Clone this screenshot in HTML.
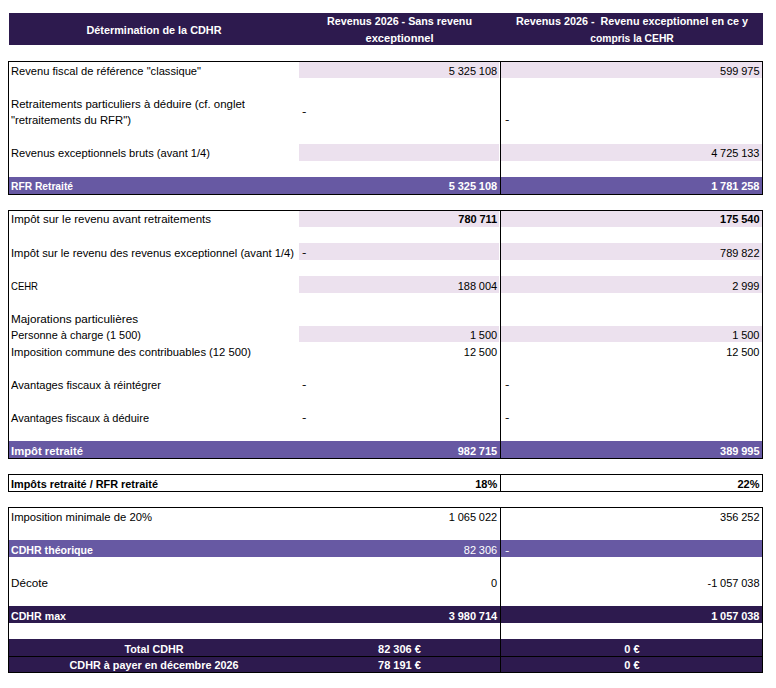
<!DOCTYPE html>
<html lang="fr"><head><meta charset="utf-8"><title>Détermination de la CDHR</title>
<style>
html,body{margin:0;padding:0;background:#fff;}
body{width:776px;height:688px;position:relative;overflow:hidden;font-family:"Liberation Sans",sans-serif;color:#000;}
.f{position:absolute;}
.t{position:absolute;white-space:pre;font-size:11px;line-height:16px;height:16px;transform-origin:0 50%;}
.b{font-weight:bold;}
.n{text-align:right;word-spacing:-0.3px;transform-origin:100% 50%;}
.w{color:#fff;}
.c{text-align:center;transform-origin:50% 50%;}
.k{background:#000;position:absolute;}
</style></head><body>
<div class="f" style="left:9px;top:13px;width:754px;height:32px;background:#2d1a4e"></div>
<div class="t b w c" style="left:9px;width:290px;top:22px;transform:scaleX(0.986)">Détermination de la CDHR</div>
<div class="t b w c" style="left:299px;width:201px;top:13.3px;transform:scaleX(0.9759)">Revenus 2026 - Sans revenu</div>
<div class="t b w c" style="left:299px;width:201px;top:30px;transform:scaleX(1.0112)">exceptionnel</div>
<div class="t b w c" style="left:501px;width:262px;top:13.3px;transform:scaleX(0.9805)">Revenus 2026 -  Revenu exceptionnel en ce y</div>
<div class="t b w c" style="left:501px;width:262px;top:30px;transform:scaleX(0.9367)">compris la CEHR</div>
<div class="f" style="left:299px;top:62px;width:200px;height:16px;background:#ece1ee"></div>
<div class="f" style="left:501px;top:62px;width:261px;height:16px;background:#ece1ee"></div>
<div class="f" style="left:299px;top:144px;width:200px;height:17px;background:#ece1ee"></div>
<div class="f" style="left:501px;top:144px;width:261px;height:17px;background:#ece1ee"></div>
<div class="f" style="left:299px;top:210px;width:200px;height:17px;background:#ece1ee"></div>
<div class="f" style="left:501px;top:210px;width:261px;height:17px;background:#ece1ee"></div>
<div class="f" style="left:299px;top:243px;width:200px;height:17px;background:#ece1ee"></div>
<div class="f" style="left:501px;top:243px;width:261px;height:17px;background:#ece1ee"></div>
<div class="f" style="left:299px;top:276px;width:200px;height:17px;background:#ece1ee"></div>
<div class="f" style="left:501px;top:276px;width:261px;height:17px;background:#ece1ee"></div>
<div class="f" style="left:299px;top:326px;width:200px;height:16px;background:#ece1ee"></div>
<div class="f" style="left:501px;top:326px;width:261px;height:16px;background:#ece1ee"></div>
<div class="f" style="left:9px;top:177px;width:753px;height:17px;background:#6759a3"></div>
<div class="f" style="left:9px;top:441px;width:753px;height:17px;background:#6759a3"></div>
<div class="f" style="left:9px;top:540px;width:753px;height:17px;background:#6759a3"></div>
<div class="f" style="left:9px;top:606px;width:753px;height:17px;background:#2d1a4e"></div>
<div class="f" style="left:9px;top:639px;width:753px;height:17px;background:#2d1a4e"></div>
<div class="f" style="left:9px;top:656px;width:753px;height:16px;background:#2d1a4e"></div>
<div class="k" style="left:8px;top:61px;width:755px;height:1px"></div>
<div class="k" style="left:8px;top:194px;width:755px;height:1px"></div>
<div class="k" style="left:8px;top:61px;width:1px;height:134px"></div>
<div class="k" style="left:762px;top:61px;width:1px;height:134px"></div>
<div class="k" style="left:500px;top:61px;width:1px;height:134px"></div>
<div class="k" style="left:8px;top:210px;width:755px;height:1px"></div>
<div class="k" style="left:8px;top:458px;width:755px;height:1px"></div>
<div class="k" style="left:8px;top:210px;width:1px;height:249px"></div>
<div class="k" style="left:762px;top:210px;width:1px;height:249px"></div>
<div class="k" style="left:500px;top:210px;width:1px;height:249px"></div>
<div class="k" style="left:8px;top:474px;width:755px;height:1px"></div>
<div class="k" style="left:8px;top:491px;width:755px;height:1px"></div>
<div class="k" style="left:8px;top:474px;width:1px;height:18px"></div>
<div class="k" style="left:762px;top:474px;width:1px;height:18px"></div>
<div class="k" style="left:500px;top:474px;width:1px;height:18px"></div>
<div class="k" style="left:8px;top:507px;width:755px;height:1px"></div>
<div class="k" style="left:8px;top:672px;width:755px;height:1px"></div>
<div class="k" style="left:8px;top:507px;width:1px;height:166px"></div>
<div class="k" style="left:762px;top:507px;width:1px;height:166px"></div>
<div class="k" style="left:500px;top:507px;width:1px;height:166px"></div>
<div class="k" style="left:8px;top:656px;width:755px;height:1px"></div>
<div class="t " style="left:11px;top:63px;transform:scaleX(1.0129)">Revenu fiscal de référence "classique"</div>
<div class="t n " style="left:377.2px;width:120px;top:63px">5 325 108</div>
<div class="t n " style="left:639.5px;width:120px;top:63px">599 975</div>
<div class="t " style="left:11px;top:96px;transform:scaleX(1.04)">Retraitements particuliers à déduire (cf. onglet</div>
<div class="t " style="left:11px;top:112px;transform:scaleX(1.0289)">"retraitements du RFR")</div>
<div class="t" style="left:302px;top:103px;transform:scaleX(1.2)">-</div>
<div class="t" style="left:505px;top:111px;transform:scaleX(1.2)">-</div>
<div class="t " style="left:11px;top:145px;transform:scaleX(1.0107)">Revenus exceptionnels bruts (avant 1/4)</div>
<div class="t n " style="left:639.5px;width:120px;top:145px">4 725 133</div>
<div class="t b w" style="left:11px;top:178px;transform:scaleX(0.9306)">RFR Retraité</div>
<div class="t n b w" style="left:377.2px;width:120px;top:178px">5 325 108</div>
<div class="t n b w" style="left:639.5px;width:120px;top:178px">1 781 258</div>
<div class="t " style="left:11px;top:211px;transform:scaleX(1.0451)">Impôt sur le revenu avant retraitements</div>
<div class="t n b" style="left:377.2px;width:120px;top:211px">780 711</div>
<div class="t n b" style="left:639.5px;width:120px;top:211px">175 540</div>
<div class="t " style="left:11px;top:245px;transform:scaleX(1.0194)">Impôt sur le revenu des revenus exceptionnel (avant 1/4)</div>
<div class="t" style="left:302px;top:244px;transform:scaleX(1.2)">-</div>
<div class="t n " style="left:639.5px;width:120px;top:245px">789 822</div>
<div class="t " style="left:11px;top:278px;transform:scaleX(0.8662)">CEHR</div>
<div class="t n " style="left:377.2px;width:120px;top:278px">188 004</div>
<div class="t n " style="left:639.5px;width:120px;top:278px">2 999</div>
<div class="t " style="left:11px;top:311px;transform:scaleX(1.0653)">Majorations particulières</div>
<div class="t " style="left:11px;top:327px;transform:scaleX(0.9933)">Personne à charge (1 500)</div>
<div class="t n " style="left:377.2px;width:120px;top:327px">1 500</div>
<div class="t n " style="left:639.5px;width:120px;top:327px">1 500</div>
<div class="t " style="left:11px;top:344px;transform:scaleX(1.0222)">Imposition commune des contribuables (12 500)</div>
<div class="t n " style="left:377.2px;width:120px;top:344px">12 500</div>
<div class="t n " style="left:639.5px;width:120px;top:344px">12 500</div>
<div class="t " style="left:11px;top:377px;transform:scaleX(1.0108)">Avantages fiscaux à réintégrer</div>
<div class="t" style="left:302px;top:376px;transform:scaleX(1.2)">-</div>
<div class="t" style="left:505px;top:376px;transform:scaleX(1.2)">-</div>
<div class="t " style="left:11px;top:410px;transform:scaleX(1.0)">Avantages fiscaux à déduire</div>
<div class="t" style="left:302px;top:409px;transform:scaleX(1.2)">-</div>
<div class="t" style="left:505px;top:409px;transform:scaleX(1.2)">-</div>
<div class="t b w" style="left:11px;top:443px;transform:scaleX(1.0242)">Impôt retraité</div>
<div class="t n b w" style="left:377.2px;width:120px;top:443px">982 715</div>
<div class="t n b w" style="left:639.5px;width:120px;top:443px">389 995</div>
<div class="t b" style="left:11px;top:476px;transform:scaleX(0.9896)">Impôts retraité / RFR retraité</div>
<div class="t n b" style="left:377.2px;width:120px;top:476px">18%</div>
<div class="t n b" style="left:639.5px;width:120px;top:476px">22%</div>
<div class="t " style="left:11px;top:509px;transform:scaleX(1.0249)">Imposition minimale de 20%</div>
<div class="t n " style="left:377.2px;width:120px;top:509px">1 065 022</div>
<div class="t n " style="left:639.5px;width:120px;top:509px">356 252</div>
<div class="t b w" style="left:11px;top:542px;transform:scaleX(0.9652)">CDHR théorique</div>
<div class="t n w" style="left:377.2px;width:120px;top:542px">82 306</div>
<div class="t" style="left:505px;top:542px;transform:scaleX(1.2);color:#fff">-</div>
<div class="t " style="left:11px;top:575px;transform:scaleX(1.0614)">Décote</div>
<div class="t n " style="left:377.2px;width:120px;top:575px">0</div>
<div class="t n " style="left:639.5px;width:120px;top:575px">-1 057 038</div>
<div class="t b w" style="left:11px;top:608px;transform:scaleX(0.9673)">CDHR max</div>
<div class="t n b w" style="left:377.2px;width:120px;top:608px">3 980 714</div>
<div class="t n b w" style="left:639.5px;width:120px;top:608px">1 057 038</div>
<div class="t b w c" style="left:9px;width:290px;top:641px;transform:scaleX(0.9785)">Total CDHR</div>
<div class="t b w c" style="left:299px;width:201px;top:641px">82 306 €</div>
<div class="t b w c" style="left:501px;width:262px;top:641px">0 €</div>
<div class="t b w c" style="left:9px;width:290px;top:657px;transform:scaleX(0.9836)">CDHR à payer en décembre 2026</div>
<div class="t b w c" style="left:299px;width:201px;top:657px">78 191 €</div>
<div class="t b w c" style="left:501px;width:262px;top:657px">0 €</div>
</body></html>
